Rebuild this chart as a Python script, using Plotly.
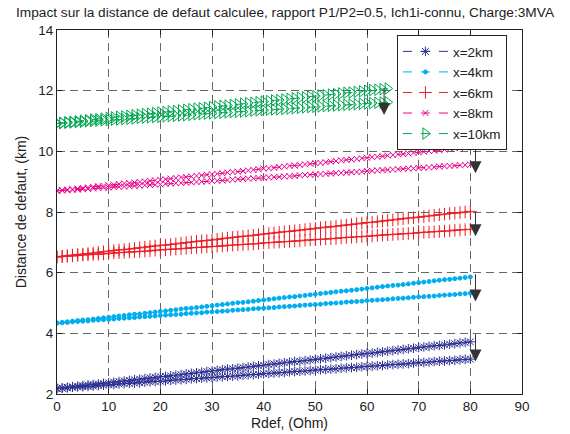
import plotly.graph_objects as go

# ---------------- data ----------------
rdef = list(range(0, 81))
rdef_10 = list(range(0, 65))

x2_up = [2.18, 2.20, 2.22, 2.24, 2.26, 2.28, 2.30, 2.31, 2.33, 2.35, 2.37, 2.39, 2.41, 2.43, 2.45, 2.47, 2.49, 2.51, 2.53, 2.55,
         2.57, 2.58, 2.60, 2.62, 2.64, 2.66, 2.68, 2.70, 2.72, 2.74, 2.76, 2.78, 2.80, 2.82, 2.83, 2.85, 2.87, 2.89, 2.91, 2.93,
         2.95, 2.97, 2.99, 3.01, 3.03, 3.05, 3.07, 3.08, 3.10, 3.12, 3.14, 3.16, 3.18, 3.20, 3.22, 3.24, 3.26, 3.28, 3.30, 3.32,
         3.34, 3.35, 3.37, 3.39, 3.41, 3.43, 3.45, 3.47, 3.49, 3.51, 3.53, 3.55, 3.57, 3.59, 3.60, 3.62, 3.64, 3.66, 3.68, 3.70,
         3.72]
x2_low = [2.18, 2.19, 2.20, 2.22, 2.23, 2.24, 2.25, 2.26, 2.28, 2.29, 2.30, 2.31, 2.33, 2.34, 2.35, 2.36, 2.37, 2.39, 2.40, 2.41,
          2.42, 2.43, 2.45, 2.46, 2.47, 2.48, 2.50, 2.51, 2.52, 2.53, 2.54, 2.56, 2.57, 2.58, 2.59, 2.60, 2.62, 2.63, 2.64, 2.65,
          2.67, 2.68, 2.69, 2.70, 2.71, 2.73, 2.74, 2.75, 2.76, 2.77, 2.79, 2.80, 2.81, 2.82, 2.83, 2.85, 2.86, 2.87, 2.88, 2.90,
          2.91, 2.92, 2.93, 2.94, 2.96, 2.97, 2.98, 2.99, 3.00, 3.02, 3.03, 3.04, 3.05, 3.07, 3.08, 3.09, 3.10, 3.11, 3.13, 3.14,
          3.15]
x4_up = [4.34, 4.36, 4.38, 4.40, 4.42, 4.44, 4.45, 4.47, 4.49, 4.51, 4.53, 4.55, 4.57, 4.59, 4.61, 4.63, 4.64, 4.66, 4.68, 4.70,
         4.72, 4.74, 4.76, 4.78, 4.80, 4.82, 4.83, 4.85, 4.87, 4.89, 4.91, 4.93, 4.95, 4.97, 4.99, 5.01, 5.02, 5.04, 5.06, 5.08,
         5.10, 5.12, 5.14, 5.16, 5.18, 5.20, 5.21, 5.23, 5.25, 5.27, 5.29, 5.31, 5.33, 5.35, 5.37, 5.39, 5.40, 5.42, 5.44, 5.46,
         5.48, 5.50, 5.52, 5.54, 5.56, 5.58, 5.59, 5.61, 5.63, 5.65, 5.67, 5.69, 5.71, 5.73, 5.75, 5.77, 5.78, 5.80, 5.82, 5.84,
         5.86]
x4_low = [4.34, 4.35, 4.36, 4.38, 4.39, 4.40, 4.41, 4.43, 4.44, 4.45, 4.46, 4.47, 4.49, 4.50, 4.51, 4.52, 4.54, 4.55, 4.56, 4.57,
          4.59, 4.60, 4.61, 4.62, 4.63, 4.65, 4.66, 4.67, 4.68, 4.70, 4.71, 4.72, 4.73, 4.74, 4.76, 4.77, 4.78, 4.79, 4.81, 4.82,
          4.83, 4.84, 4.85, 4.87, 4.88, 4.89, 4.90, 4.92, 4.93, 4.94, 4.95, 4.96, 4.98, 4.99, 5.00, 5.01, 5.03, 5.04, 5.05, 5.06,
          5.08, 5.09, 5.10, 5.11, 5.12, 5.14, 5.15, 5.16, 5.17, 5.19, 5.20, 5.21, 5.22, 5.23, 5.25, 5.26, 5.27, 5.28, 5.30, 5.31,
          5.32]
x6_up = [6.52, 6.54, 6.56, 6.58, 6.60, 6.61, 6.63, 6.65, 6.67, 6.69, 6.71, 6.73, 6.75, 6.76, 6.78, 6.80, 6.82, 6.84, 6.86, 6.88,
         6.90, 6.91, 6.93, 6.95, 6.97, 6.99, 7.01, 7.03, 7.05, 7.06, 7.08, 7.10, 7.12, 7.14, 7.16, 7.18, 7.20, 7.21, 7.23, 7.25,
         7.27, 7.29, 7.31, 7.33, 7.35, 7.36, 7.38, 7.40, 7.42, 7.44, 7.46, 7.48, 7.50, 7.51, 7.53, 7.55, 7.57, 7.59, 7.61, 7.63,
         7.65, 7.66, 7.68, 7.70, 7.72, 7.74, 7.76, 7.78, 7.80, 7.81, 7.83, 7.85, 7.87, 7.89, 7.91, 7.93, 7.95, 7.96, 7.98, 8.00,
         8.02]
x6_low = [6.52, 6.53, 6.54, 6.55, 6.57, 6.58, 6.59, 6.60, 6.61, 6.62, 6.63, 6.65, 6.66, 6.67, 6.68, 6.69, 6.70, 6.71, 6.72, 6.74,
          6.75, 6.76, 6.77, 6.78, 6.79, 6.80, 6.82, 6.83, 6.84, 6.85, 6.86, 6.87, 6.88, 6.90, 6.91, 6.92, 6.93, 6.94, 6.95, 6.96,
          6.98, 6.99, 7.00, 7.01, 7.02, 7.03, 7.04, 7.05, 7.07, 7.08, 7.09, 7.10, 7.11, 7.12, 7.13, 7.15, 7.16, 7.17, 7.18, 7.19,
          7.20, 7.21, 7.23, 7.24, 7.25, 7.26, 7.27, 7.28, 7.29, 7.30, 7.32, 7.33, 7.34, 7.35, 7.36, 7.37, 7.38, 7.40, 7.41, 7.42,
          7.43]
x8_up = [8.70, 8.72, 8.74, 8.75, 8.77, 8.79, 8.81, 8.83, 8.85, 8.86, 8.88, 8.90, 8.92, 8.94, 8.95, 8.97, 8.99, 9.01, 9.03, 9.04,
         9.06, 9.08, 9.10, 9.12, 9.14, 9.15, 9.17, 9.19, 9.21, 9.23, 9.24, 9.26, 9.28, 9.30, 9.32, 9.33, 9.35, 9.37, 9.39, 9.41,
         9.43, 9.44, 9.46, 9.48, 9.50, 9.52, 9.53, 9.55, 9.57, 9.59, 9.61, 9.62, 9.64, 9.66, 9.68, 9.70, 9.72, 9.73, 9.75, 9.77,
         9.79, 9.81, 9.82, 9.84, 9.86, 9.88, 9.90, 9.91, 9.93, 9.95, 9.97, 9.99, 10.01, 10.02, 10.04, 10.06, 10.08, 10.10, 10.11, 10.13,
         10.15]
x8_low = [8.70, 8.71, 8.72, 8.73, 8.74, 8.75, 8.76, 8.78, 8.79, 8.80, 8.81, 8.82, 8.83, 8.84, 8.85, 8.86, 8.87, 8.88, 8.89, 8.90,
          8.91, 8.93, 8.94, 8.95, 8.96, 8.97, 8.98, 8.99, 9.00, 9.01, 9.02, 9.03, 9.04, 9.05, 9.07, 9.08, 9.09, 9.10, 9.11, 9.12,
          9.13, 9.14, 9.15, 9.16, 9.17, 9.18, 9.19, 9.21, 9.22, 9.23, 9.24, 9.25, 9.26, 9.27, 9.28, 9.29, 9.30, 9.31, 9.32, 9.33,
          9.35, 9.36, 9.37, 9.38, 9.39, 9.40, 9.41, 9.42, 9.43, 9.44, 9.45, 9.46, 9.47, 9.48, 9.50, 9.51, 9.52, 9.53, 9.54, 9.55,
          9.56]
x10_up = [10.92, 10.94, 10.96, 10.97, 10.99, 11.01, 11.03, 11.05, 11.06, 11.08, 11.10, 11.12, 11.14, 11.15, 11.17, 11.19, 11.21,
          11.23, 11.24, 11.26, 11.28, 11.30, 11.32, 11.33, 11.35, 11.37, 11.39, 11.41, 11.42, 11.44, 11.46, 11.48, 11.50, 11.51,
          11.53, 11.55, 11.57, 11.59, 11.60, 11.62, 11.64, 11.66, 11.68, 11.69, 11.71, 11.73, 11.75, 11.77, 11.78, 11.80, 11.82,
          11.84, 11.85, 11.87, 11.89, 11.91, 11.93, 11.94, 11.96, 11.98, 12.00, 12.02, 12.03, 12.05, 12.07]
x10_low = [10.92, 10.93, 10.94, 10.95, 10.96, 10.97, 10.99, 11.00, 11.01, 11.02, 11.03, 11.04, 11.05, 11.06, 11.07, 11.08, 11.10,
           11.11, 11.12, 11.13, 11.14, 11.15, 11.16, 11.17, 11.18, 11.19, 11.20, 11.22, 11.23, 11.24, 11.25, 11.26, 11.27, 11.28,
           11.29, 11.30, 11.31, 11.32, 11.34, 11.35, 11.36, 11.37, 11.38, 11.39, 11.40, 11.41, 11.42, 11.43, 11.45, 11.46, 11.47,
           11.48, 11.49, 11.50, 11.51, 11.52, 11.53, 11.54, 11.55, 11.57, 11.58, 11.59, 11.60, 11.61, 11.62]

series_names = ["x=2km", "x=4km", "x=6km", "x=8km", "x=10km"]

# arrows (Rdef position, tail value, head value)
arrow_x = [81, 81, 81, 81, 63.3]
arrow_top = [4.02, 6.0, 8.05, 10.1, 12.14]
arrow_tip = [3.07, 5.05, 7.2, 9.28, 11.2]

# ---------------- styling ----------------
colors = ["#2E3192", "#00AEEF", "#ED1C24", "#EC008C", "#00A651"]
symbols = ["asterisk-open", "circle", "cross-thin-open", "x-thin-open", "triangle-right-open"]
msizes = [8, 4, 9, 6, 10]

xs = [rdef, rdef, rdef, rdef, rdef_10]
ups = [x2_up, x4_up, x6_up, x8_up, x10_up]
lows = [x2_low, x4_low, x6_low, x8_low, x10_low]

FONT = "Liberation Sans, Arial, Helvetica, sans-serif"

fig = go.Figure()
for i, name in enumerate(series_names):
    for j, yv in enumerate([ups[i], lows[i]]):
        fig.add_trace(go.Scatter(
            x=xs[i], y=yv, mode="lines+markers", name=name,
            showlegend=(j == 0), legendgroup=name,
            line=dict(color=colors[i], width=1, dash="dash"),
            marker=dict(symbol=symbols[i], size=msizes[i], color=colors[i],
                        line=dict(color=colors[i], width=1)),
        ))

for ax_, at, tp in zip(arrow_x, arrow_top, arrow_tip):
    fig.add_annotation(
        x=ax_, y=tp, ax=ax_, ay=at, xref="x", yref="y", axref="x", ayref="y",
        showarrow=True, arrowhead=2, arrowsize=2.4, arrowwidth=1, arrowcolor="#333333", text="",
    )

fig.update_layout(
    width=570, height=434,
    margin=dict(l=57, r=48, t=30, b=40),
    paper_bgcolor="white", plot_bgcolor="white",
    font=dict(family=FONT, size=13, color="#222222"),
    title=dict(text="Impact sur la distance de defaut calculee, rapport P1/P2=0.5, Ich1i-connu, Charge:3MVA",
               x=0.5, xanchor="center", xref="container", y=1 - 12 / 434, yref="container", yanchor="middle",
               font=dict(size=13.7, color="#222222")),
    legend=dict(x=0.731, y=0.986, xanchor="left", yanchor="top", bgcolor="white",
                bordercolor="#222222", borderwidth=1, font=dict(size=13.5, color="#222222"),
                itemwidth=45, tracegroupgap=0),
    showlegend=True,
)
fig.update_xaxes(
    range=[0, 90], tickvals=list(range(0, 91, 10)), showline=True, linecolor="#222222", linewidth=1,
    mirror="ticks", ticks="inside", ticklen=5, tickcolor="#222222", automargin=False,
    tickfont=dict(size=13.5),
    showgrid=True, gridcolor="#666666", gridwidth=1, griddash="8px,5px", zeroline=False,
    title=dict(text="Rdef, (Ohm)", standoff=4, font=dict(size=14)),
)
fig.update_yaxes(
    range=[2, 14], tickvals=list(range(2, 15, 2)), showline=True, linecolor="#222222", linewidth=1,
    mirror="ticks", ticks="inside", ticklen=5, tickcolor="#222222", automargin=False,
    tickfont=dict(size=13.5),
    showgrid=True, gridcolor="#666666", gridwidth=1, griddash="8px,5px", zeroline=False,
    title=dict(text="Distance de defaut, (km)", standoff=8, font=dict(size=14)),
)

fig.write_html("out.html", config={"displayModeBar": False},
               post_script="document.body.style.margin='0';document.body.style.padding='0';")
